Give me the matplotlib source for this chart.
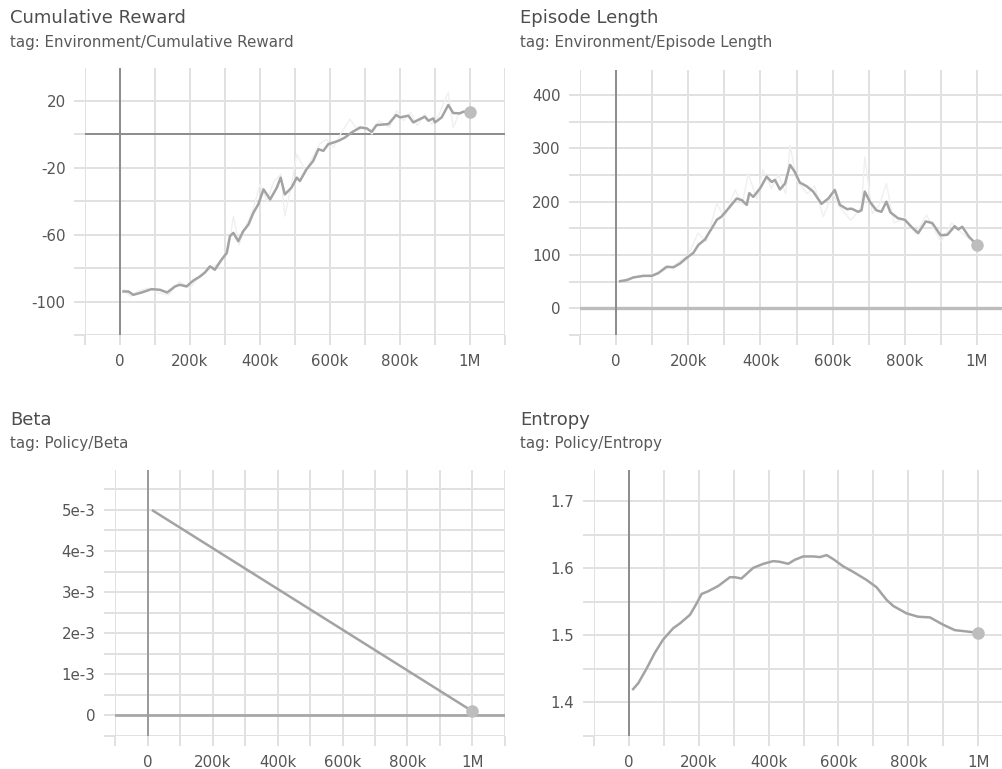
import matplotlib
matplotlib.use("Agg")
import matplotlib.pyplot as plt
from matplotlib.ticker import FixedLocator, FuncFormatter

plt.rcParams['font.family'] = ['DejaVu Sans']

# ---------------- data ----------------
reward_steps = [10, 24, 38, 62, 90, 114, 135, 157, 171, 190, 210, 229, 243, 257, 271, 290, 305, 314,
                324, 338, 352, 367, 381, 395, 410, 429, 448, 459, 471, 490, 505, 514, 533, 552, 567,
                581, 595, 610, 624, 643, 662, 686, 705, 719, 733, 767, 789, 800, 824, 838, 857, 871,
                881, 895, 900, 919, 938, 952, 971, 981, 1000]
reward_values = [-94, -94, -96, -94.6, -92.6, -93, -94.6, -91, -90, -91, -87.4, -85, -82.6, -79, -81,
                 -75, -71, -61, -59, -64, -58, -54, -47, -42, -33, -39, -32, -26, -36, -32, -26, -28,
                 -21, -16, -9, -10, -6, -5, -4, -2, 1, 4, 3.4, 1.4, 5.4, 6, 11.4, 10, 11, 7, 9, 10.4,
                 8, 9.4, 7, 10, 17.4, 12.6, 12.4, 13.4, 13.4]
reward_raw_steps = [10, 30, 50, 80, 110, 140, 170, 200, 230, 260, 290, 310, 324, 340, 360, 380, 400,
                    420, 440, 460, 471, 490, 505, 530, 550, 570, 590, 610, 630, 657, 680, 700, 720,
                    740, 770, 790, 810, 830, 850, 870, 890, 910, 938, 952, 970, 1000]
reward_raw_values = [-93, -97, -94, -92, -95, -96, -88, -92, -84, -80, -76, -68, -49, -66, -55, -45,
                     -30, -40, -28, -24, -49, -30, -12, -22, -14, -6, -3, -8, 0, 9, 2, 5, 0, 8, 4,
                     14, 8, 13, 5, 12, 6, 11, 25, 4, 13, 14]

length_steps = [11, 30, 48, 76, 99, 117, 140, 159, 177, 196, 214, 228, 246, 265, 279, 292, 311, 334,
                348, 362, 369, 380, 399, 417, 431, 440, 454, 468, 482, 495, 509, 528, 546, 569, 588,
                606, 620, 640, 652, 671, 680, 689, 703, 721, 735, 749, 760, 781, 800, 818, 837, 858,
                876, 899, 918, 938, 948, 959, 978, 1000]
length_values = [51, 53, 58, 61, 61, 66, 78, 77, 84, 95, 104, 119, 129, 150, 166, 172, 187, 206, 203,
                 194, 216, 209, 225, 247, 237, 241, 223, 234, 269, 256, 236, 229, 219, 196, 206, 222,
                 194, 186, 187, 181, 184, 219, 200, 184, 181, 200, 180, 169, 166, 153, 141, 163, 160,
                 137, 138, 154, 148, 153, 134, 119]
length_raw_steps = [11, 40, 80, 120, 160, 200, 227, 250, 279, 300, 330, 350, 366, 390, 407, 430, 450,
                    470, 482, 500, 530, 550, 574, 600, 620, 650, 680, 689, 710, 730, 749, 770, 800,
                    830, 860, 880, 900, 930, 960, 990, 1000]
length_raw_values = [50, 57, 60, 68, 80, 100, 141, 125, 197, 170, 222, 195, 253, 205, 260, 225, 250,
                     215, 306, 240, 215, 230, 172, 215, 190, 165, 190, 284, 178, 195, 234, 160, 170,
                     140, 175, 150, 125, 160, 140, 125, 119]

beta_steps = [17, 1000]
beta_values = [4.98e-3, 0.1e-3]

entropy_steps = [12, 27, 51, 74, 98, 127, 146, 175, 194, 208, 227, 256, 289, 303, 322, 356, 385, 413,
                 432, 456, 475, 499, 528, 547, 566, 585, 614, 642, 680, 709, 738, 757, 795, 828, 862,
                 900, 933, 967, 1000]
entropy_values = [1.420, 1.429, 1.451, 1.474, 1.494, 1.511, 1.518, 1.531, 1.548, 1.562, 1.566, 1.574,
                  1.587, 1.587, 1.585, 1.601, 1.607, 1.611, 1.610, 1.607, 1.613, 1.618, 1.618, 1.617,
                  1.620, 1.614, 1.603, 1.595, 1.583, 1.572, 1.553, 1.544, 1.533, 1.528, 1.527, 1.516,
                  1.508, 1.506, 1.504]

x_grid = [-100, 0, 100, 200, 300, 400, 500, 600, 700, 800, 900, 1000, 1100]
x_labels = {0: '0', 200: '200k', 400: '400k', 600: '600k', 800: '800k', 1000: '1M'}

# ---------------- style ----------------
W, H = 1003, 769
GRID = '#e1e1e1'
LINE = '#a3a3a3'
RAW = '#f0f0f0'
DOT = '#bdbdbd'
TXT = '#555555'

fig = plt.figure(figsize=(W / 100, H / 100), dpi=100)


def add_axes(left, top, right, bottom):
    return fig.add_axes([left / W, 1 - bottom / H, (right - left) / W, (bottom - top) / H])


def style(ax, xlim, ylim, ygrid, ylabels):
    ax.set_xlim(*xlim)
    ax.set_ylim(*ylim)
    for s in ax.spines.values():
        s.set_visible(False)
    ax.xaxis.set_major_locator(FixedLocator(x_grid))
    ax.xaxis.set_major_formatter(FuncFormatter(lambda v, p: x_labels.get(int(round(v)), '')))
    ax.yaxis.set_major_locator(FixedLocator(ygrid))
    ax.yaxis.set_major_formatter(FuncFormatter(lambda v, p: ylabels.get(round(v, 6), '')))
    ax.grid(True, color=GRID, lw=1.4)
    ax.set_axisbelow(True)
    ax.tick_params(axis='both', direction='out', color=GRID, width=1.4, labelcolor=TXT,
                   labelsize=10.8)
    ax.tick_params(axis='x', length=7, pad=7)
    ax.tick_params(axis='y', length=8, pad=6)


def titles(x, y, title, tag):
    fig.text(x / W, 1 - y / H, title, fontsize=13, color='#4d4d4d', va='center', ha='left')
    fig.text(x / W, 1 - (y + 24) / H, tag, fontsize=10.9, color='#5a5a5a', va='center', ha='left')


# ---- Cumulative Reward ----
ax1 = add_axes(85, 68, 505, 335)
ax1.plot(reward_raw_steps, reward_raw_values, color=RAW, lw=1.0, zorder=2)
ax1.axhline(0, color='#8c8c8c', lw=1.4, zorder=1.5)
ax1.axvline(0, color='#8c8c8c', lw=1.4, zorder=1.5)
ax1.plot(reward_steps, reward_values, color=LINE, lw=1.8, zorder=3)
ax1.plot(reward_steps[-1:], reward_values[-1:], 'o', color=DOT, ms=8, zorder=4)
style(ax1, (-100, 1100), (-120, 39.5), [-120, -100, -80, -60, -40, -20, 0, 20],
      {20: '20', -20: '-20', -60: '-60', -100: '-100'})
titles(10, 18, 'Cumulative Reward', 'tag: Environment/Cumulative Reward')

# ---- Episode Length ----
ax2 = add_axes(580, 70, 1003, 335)
ax2.plot(length_raw_steps, length_raw_values, color=RAW, lw=1.0, zorder=2)
ax2.axhline(0, color='#bdbdbd', lw=2.4, zorder=1.5)
ax2.axvline(0, color='#8c8c8c', lw=1.4, zorder=1.5)
ax2.plot(length_steps, length_values, color=LINE, lw=1.8, zorder=3)
ax2.plot(length_steps[-1:], length_values[-1:], 'o', color=DOT, ms=8, zorder=4)
style(ax2, (-100, 1072), (-50, 447), [-50, 0, 50, 100, 150, 200, 250, 300, 350, 400],
      {0: '0', 100: '100', 200: '200', 300: '300', 400: '400'})
titles(520, 18, 'Episode Length', 'tag: Environment/Episode Length')

# ---- Beta ----
ax3 = add_axes(115, 470, 505, 736)
ax3.axhline(0, color='#a8a8a8', lw=2.0, zorder=1.5)
ax3.axvline(0, color='#9a9a9a', lw=1.4, zorder=1.5)
ax3.plot(beta_steps, beta_values, color=LINE, lw=1.8, zorder=3)
ax3.plot(beta_steps[-1:], beta_values[-1:], 'o', color=DOT, ms=8, zorder=4)
style(ax3, (-100, 1100), (-0.5e-3, 5.97e-3),
      [-0.5e-3, 0, 0.5e-3, 1e-3, 1.5e-3, 2e-3, 2.5e-3, 3e-3, 3.5e-3, 4e-3, 4.5e-3, 5e-3, 5.5e-3],
      {0.0: '0', 0.001: '1e-3', 0.002: '2e-3', 0.003: '3e-3', 0.004: '4e-3', 0.005: '5e-3'})
titles(10, 420, 'Beta', 'tag: Policy/Beta')

# ---- Entropy ----
ax4 = add_axes(594, 470, 1003, 736)
ax4.axvline(0, color='#8c8c8c', lw=1.4, zorder=1.5)
ax4.plot(entropy_steps, entropy_values, color=LINE, lw=1.8, zorder=3)
ax4.plot(entropy_steps[-1:], entropy_values[-1:], 'o', color=DOT, ms=8, zorder=4)
style(ax4, (-100, 1071), (1.35, 1.747), [1.35, 1.4, 1.45, 1.5, 1.55, 1.6, 1.65, 1.7],
      {1.4: '1.4', 1.5: '1.5', 1.6: '1.6', 1.7: '1.7'})
titles(520, 420, 'Entropy', 'tag: Policy/Entropy')

fig.savefig('out.png', dpi=100, facecolor='white')
